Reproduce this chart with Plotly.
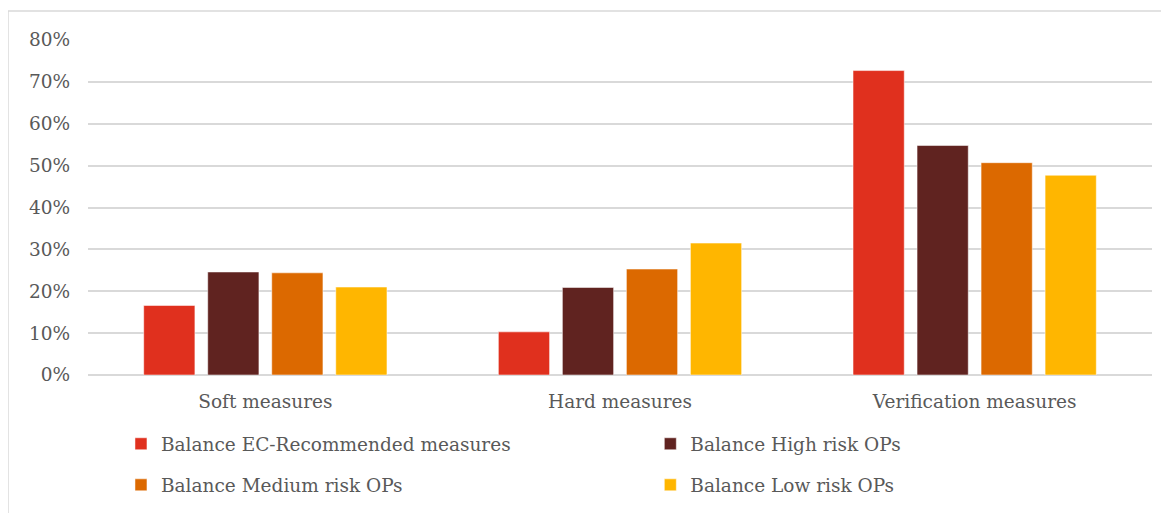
import plotly.graph_objects as go

categories = ["Soft measures", "Hard measures", "Verification measures"]
series_names = ["Balance EC-Recommended measures", "Balance High risk OPs",
                "Balance Medium risk OPs", "Balance Low risk OPs"]
ec_recommended = [0.166, 0.103, 0.727]
high_risk = [0.246, 0.209, 0.548]
medium_risk = [0.244, 0.253, 0.507]
low_risk = [0.210, 0.315, 0.477]
y_ticks = [0, 0.1, 0.2, 0.3, 0.4, 0.5, 0.6, 0.7, 0.8]

colors = ["#E0301E", "#602320", "#DC6900", "#FFB600"]
# EC + Medium in left legend column, High + Low in right one
legend_ids = ["legend", "legend2", "legend", "legend2"]
values = [ec_recommended, high_risk, medium_risk, low_risk]

FONT = "DejaVu Serif"
GREY = "#595959"
SIZE = 18.5

fig = go.Figure()
for name, vals, col, lg in zip(series_names, values, colors, legend_ids):
    fig.add_trace(go.Bar(x=categories, y=vals, name=name, legend=lg, legendgroup=name,
                         marker=dict(color=col, line=dict(color="rgba(255,255,255,0.5)", width=1))))

legend_style = dict(orientation="v", yanchor="top", y=-0.15, xanchor="left",
                    font=dict(family=FONT, size=SIZE, color=GREY), tracegroupgap=14,
                    bgcolor="rgba(0,0,0,0)", itemwidth=30)

# the page body adds 8px around the figure, margins allow for that
fig.update_layout(
    width=1169, height=513,
    margin=dict(l=80, r=25, t=32, b=146),
    paper_bgcolor="white", plot_bgcolor="white",
    barmode="group", bargap=0.278, bargroupgap=0.2,
    font=dict(family=FONT, color=GREY),
    legend=dict(x=0.031, **legend_style),
    legend2=dict(x=0.5285, **legend_style),
    showlegend=True,
)
fig.update_yaxes(range=[0, 0.8], tickvals=y_ticks, tickformat=".0%",
                 showgrid=True, gridcolor="#d9d9d9", gridwidth=1.5,
                 zeroline=True, zerolinecolor="#d9d9d9", zerolinewidth=1.5,
                 tickfont=dict(family=FONT, size=SIZE, color=GREY), ticklabelstandoff=17)
fig.update_xaxes(showline=False, tickfont=dict(family=FONT, size=SIZE, color=GREY),
                 ticklabelstandoff=13)

# outer chart border
fig.add_shape(type="rect", xref="paper", yref="paper",
              x0=-0.0752, x1=1.0165, y0=-0.5, y1=1.0866,
              line=dict(color="#d9d9d9", width=1.5), layer="below")

fig.write_html("out.html")
